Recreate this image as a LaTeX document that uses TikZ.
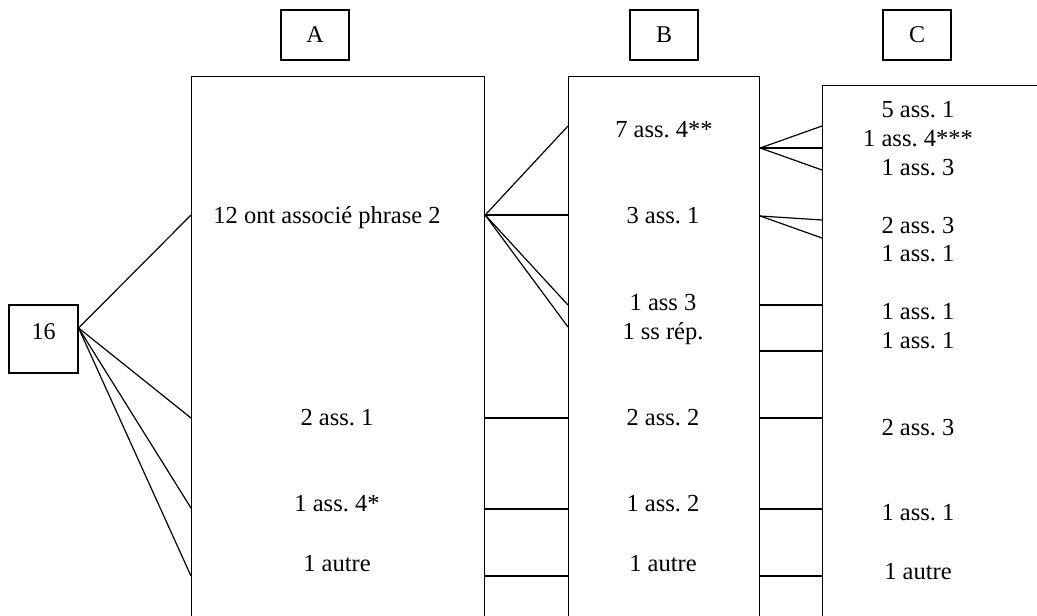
\documentclass[tikz,border=0pt]{standalone}
\usepackage{fontspec}
\setmainfont{Liberation Serif}
\frenchspacing
\tikzset{
  hdr/.style={draw,line width=1.2pt,minimum width=68pt,minimum height=50pt,inner sep=0pt,font=\fontsize{24}{29}\selectfont},
  col/.style={draw,line width=1.2pt,anchor=north west,inner sep=0pt},
  txt/.style={font=\fontsize{24.5}{29}\selectfont,anchor=base,inner sep=0pt},
  link/.style={line width=1.2pt},
}
\begin{document}
\begin{tikzpicture}[x=1pt,y=-1pt,line cap=butt,line join=miter]

% Frame (the columns run past the page edge)
\useasboundingbox (0,0) rectangle (1037,616);
\clip (0,0) rectangle (1037,616);

% Headers
\node[hdr] (hA) at (315,35) {A};
\node[hdr] (hB) at (664,35) {B};
\node[hdr] (hC) at (917,35) {C};

% Columns
\node[col,minimum width=293pt,minimum height=600pt] (colA) at (191,76) {};
\node[col,minimum width=191pt,minimum height=600pt] (colB) at (568,76) {};
\node[col,minimum width=300pt,minimum height=600pt] (colC) at (822,85) {};

% Start box
\node[hdr,minimum width=69pt,minimum height=68pt,text height=17pt,text depth=16pt] (n16) at (43.5,339) {16};
\coordinate (s16) at ([yshift=11pt]n16.east);

% Column A
\node[txt] (a1) at (327,223) {12 ont associé phrase 2};
\node[txt] (a2) at (337,425) {2 ass. 1};
\node[txt] (a3) at (337,511) {1 ass. 4*};
\node[txt] (a4) at (337,571) {1 autre};

% Column B
\node[txt] (b1) at (664,137) {7 ass. 4**};
\node[txt] (b2) at (663,223) {3 ass. 1};
\node[txt] (b3) at (663,310) {1 ass 3};
\node[txt] (b4) at (663,339) {1 ss rép.};
\node[txt] (b5) at (663,425) {2 ass. 2};
\node[txt] (b6) at (663,511) {1 ass. 2};
\node[txt] (b7) at (663,571) {1 autre};

% Column C
\foreach \y/\t [count=\i] in {117/5 ass. 1,146/1 ass. 4***,175/1 ass. 3,233/2 ass. 3,261/1 ass. 1,
  319/1 ass. 1,348/1 ass. 1,435/2 ass. 3,520/1 ass. 1,579/1 autre}{
  \node[txt] (c\i) at (918,\y) {\t};
}

% 16 -> A
\foreach \y in {215,418,508,576}{
  \draw[link] (s16) -- (colA.west |- 0,\y);
}

% A -> B
\foreach \y in {126,215,305,327}{
  \draw[link] (colA.east |- 0,215) -- (colB.west |- 0,\y);
}
\foreach \y in {418,509,576}{
  \draw[link] (colA.east |- 0,\y) -- (colB.west |- 0,\y);
}

% B -> C
\foreach \y in {126,148,170}{
  \draw[link] (colB.east |- 0,148) -- (colC.west |- 0,\y);
}
\foreach \y in {220,238}{
  \draw[link] (colB.east |- 0,216) -- (colC.west |- 0,\y);
}
\foreach \y in {305,351,418,509,576}{
  \draw[link] (colB.east |- 0,\y) -- (colC.west |- 0,\y);
}

\end{tikzpicture}
\end{document}
